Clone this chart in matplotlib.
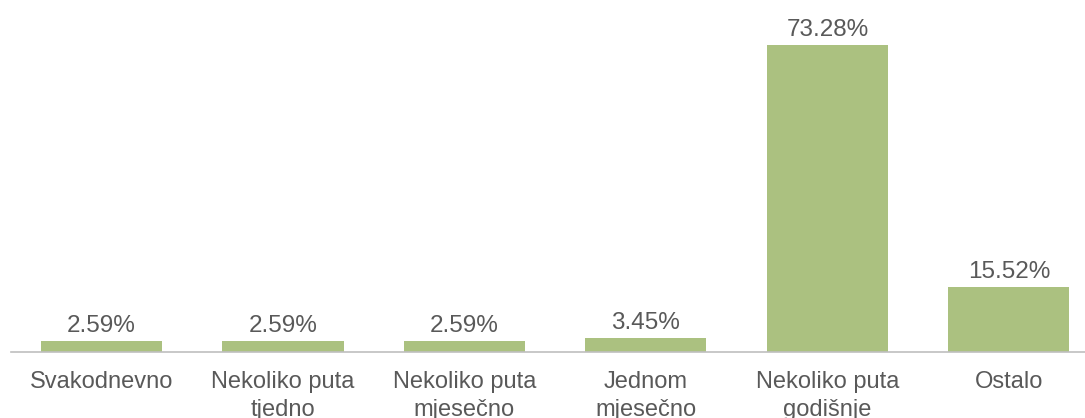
import matplotlib
matplotlib.use("Agg")
import matplotlib.pyplot as plt

categories = ["Svakodnevno", "Nekoliko puta\ntjedno", "Nekoliko puta\nmjesečno",
              "Jednom\nmjesečno", "Nekoliko puta\ngodišnje", "Ostalo"]
values = [2.59, 2.59, 2.59, 3.45, 73.28, 15.52]
value_labels = ["2.59%", "2.59%", "2.59%", "3.45%", "73.28%", "15.52%"]

plt.rcParams['font.family'] = ['Liberation Sans', 'DejaVu Sans']
W, H = 1085, 418
fig = plt.figure(figsize=(W / 100, H / 100), dpi=100)
ax = fig.add_axes([10.75 / W, (H - 352) / H, 1 - 10.75 / W, 352 / H])

x = list(range(len(categories)))
ax.bar(x, values, width=0.667, color="#abc180", zorder=2)
ax.set_xlim(-0.5, 5.419)
ax.set_ylim(0, 84)

for xi, v, lab in zip(x, values, value_labels):
    ax.annotate(lab, (xi, v), xytext=(0, 6.5), textcoords="offset points",
                ha="center", va="baseline", fontsize=17.5, color="#595959")

for s in ["top", "right", "left"]:
    ax.spines[s].set_visible(False)
ax.spines["bottom"].set_color("#bfbfbf")
ax.spines["bottom"].set_linewidth(1.2)
ax.set_yticks([])
ax.set_xticks(x)
ax.set_xticklabels(categories, fontsize=17, color="#595959", linespacing=1.36)
ax.tick_params(axis="x", length=0, pad=13.5)

fig.savefig("out.png", dpi=100)
